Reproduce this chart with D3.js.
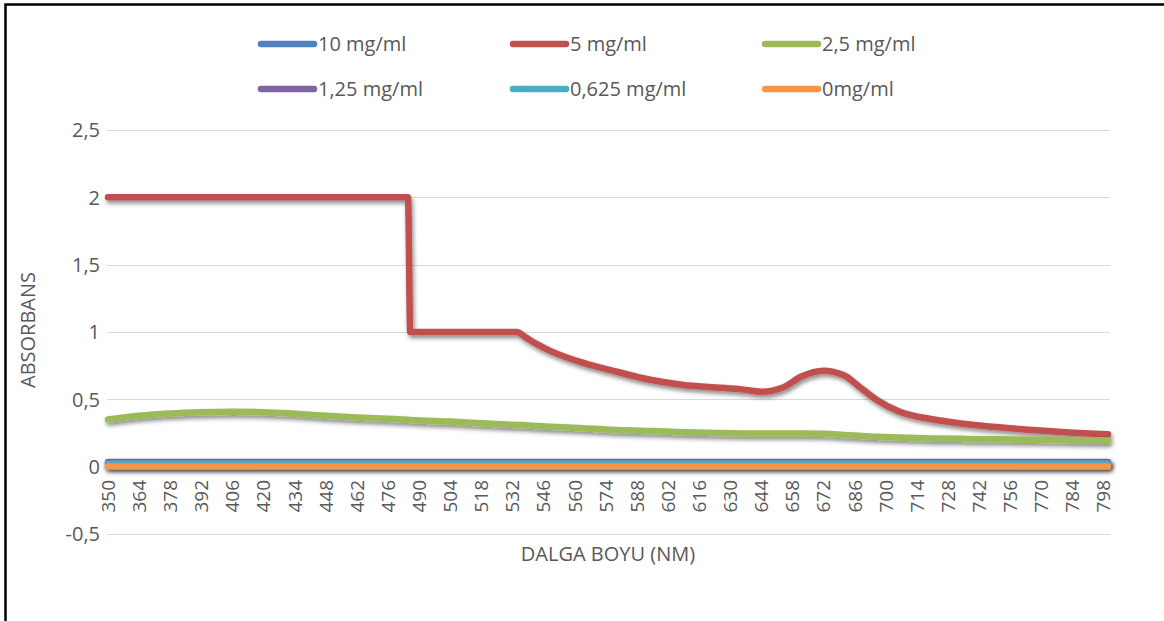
<!DOCTYPE html>
<html>
<head>
<meta charset="utf-8">
<script src="https://cdn.jsdelivr.net/npm/d3@7"></script>
<style>
  html, body { margin: 0; padding: 0; background: #ffffff; }
  svg { display: block; }
  text { font-family: "Open Sans", "Noto Sans", sans-serif; fill: #595959; }
</style>
</head>
<body>
<svg id="chart" width="1164" height="621"></svg>
<script>
// Wavelengths (nm) at which each absorbance series is sampled
const wavelengths = [350, 364, 378, 392, 406, 420, 434, 448, 462, 476, 485, 486, 504, 518, 534, 538, 543,
  549, 564, 579, 594, 609, 624, 636, 644, 654, 662, 672, 681, 688, 696, 706, 721, 736, 751, 766, 781, 800];

// Absorbance per concentration
const abs10 = [0.028, 0.028, 0.028, 0.028, 0.028, 0.028, 0.028, 0.028, 0.028, 0.028, 0.028, 0.028, 0.028, 0.028, 0.028, 0.028, 0.028,
  0.028, 0.028, 0.028, 0.028, 0.028, 0.028, 0.028, 0.028, 0.028, 0.028, 0.028, 0.028, 0.028, 0.028, 0.028, 0.028, 0.028, 0.028, 0.028, 0.028, 0.028];
const abs5 = [2, 2, 2, 2, 2, 2, 2, 2, 2, 2, 2, 1, 1, 1, 1, 0.96, 0.91,
  0.86, 0.77, 0.705, 0.645, 0.607, 0.588, 0.572, 0.557, 0.59, 0.67, 0.713, 0.68, 0.595, 0.495, 0.41, 0.352, 0.317, 0.292, 0.272, 0.255, 0.24];
const abs2_5 = [0.35, 0.378, 0.395, 0.404, 0.408, 0.405, 0.393, 0.378, 0.365, 0.355, 0.348, 0.347, 0.335, 0.322, 0.31, 0.307, 0.302,
  0.297, 0.285, 0.272, 0.264, 0.256, 0.25, 0.247, 0.246, 0.246, 0.247, 0.245, 0.236, 0.229, 0.222, 0.217, 0.21, 0.206, 0.203, 0.2, 0.197, 0.193];
const abs1_25 = [0.035, 0.035, 0.035, 0.034, 0.034, 0.034, 0.034, 0.034, 0.034, 0.034, 0.034, 0.034, 0.034, 0.034, 0.034, 0.034, 0.034,
  0.034, 0.034, 0.034, 0.034, 0.034, 0.034, 0.034, 0.034, 0.034, 0.034, 0.034, 0.034, 0.034, 0.034, 0.034, 0.034, 0.034, 0.034, 0.034, 0.034, 0.034];
const abs0_625 = [0.021, 0.021, 0.021, 0.021, 0.021, 0.021, 0.021, 0.021, 0.021, 0.021, 0.021, 0.021, 0.021, 0.021, 0.021, 0.021, 0.021,
  0.021, 0.021, 0.021, 0.021, 0.021, 0.021, 0.021, 0.021, 0.021, 0.021, 0.021, 0.021, 0.021, 0.021, 0.021, 0.021, 0.021, 0.021, 0.021, 0.021, 0.021];
const abs0 = [0.002, 0.002, 0.002, 0.002, 0.002, 0.002, 0.002, 0.002, 0.002, 0.002, 0.002, 0.002, 0.002, 0.002, 0.002, 0.002, 0.002,
  0.002, 0.002, 0.002, 0.002, 0.002, 0.002, 0.002, 0.002, 0.002, 0.002, 0.002, 0.002, 0.002, 0.002, 0.002, 0.002, 0.002, 0.002, 0.002, 0.002, 0.002];

const seriesNames = ["10 mg/ml", "5 mg/ml", "2,5 mg/ml", "1,25 mg/ml", "0,625 mg/ml", "0mg/ml"];
const seriesValues = [abs10, abs5, abs2_5, abs1_25, abs0_625, abs0];
const seriesColors = ["#4F81BD", "#C0504D", "#9BBB59", "#8064A2", "#4BACC6", "#F79646"];

// Category labels shown on the wavelength axis
const xTickLabels = [350, 364, 378, 392, 406, 420, 434, 448, 462, 476, 490, 504, 518, 532, 546, 560, 574,
  588, 602, 616, 630, 644, 658, 672, 686, 700, 714, 728, 742, 756, 770, 784, 798];
const yTickValues = [-0.5, 0, 0.5, 1, 1.5, 2, 2.5];

const svg = d3.select("#chart");

// Chart frame
svg.append("path")
  .attr("d", "M5.5,621 L5.5,4.5 L1164,4.5")
  .attr("fill", "none")
  .attr("stroke", "#000")
  .attr("stroke-width", 2.5);

// Soft drop shadow under the series lines (user-space region so flat lines keep it)
const defs = svg.append("defs");
const shadow = defs.append("filter").attr("id", "shadow")
  .attr("filterUnits", "userSpaceOnUse")
  .attr("x", 0).attr("y", 0).attr("width", 1164).attr("height", 621);
shadow.append("feDropShadow")
  .attr("dx", 1.5).attr("dy", 3).attr("stdDeviation", 2)
  .attr("flood-color", "#000").attr("flood-opacity", 0.45);

const x = d3.scaleLinear().domain([350, 800]).range([108, 1108]);
const y = d3.scaleLinear().domain([-0.5, 2.5]).range([534, 130]);

// Horizontal gridlines
svg.append("g")
  .selectAll("line")
  .data(yTickValues)
  .join("line")
  .attr("x1", 107).attr("x2", 1110)
  .attr("y1", d => Math.round(y(d)) + 0.5)
  .attr("y2", d => Math.round(y(d)) + 0.5)
  .attr("stroke", "#D9D9D9")
  .attr("stroke-width", 1.2);

// Value axis labels
const fmt = d => String(d).replace(".", ",");
svg.append("g")
  .selectAll("text")
  .data(yTickValues)
  .join("text")
  .attr("x", 100)
  .attr("y", d => y(d))
  .attr("dy", "0.36em")
  .attr("text-anchor", "end")
  .attr("font-size", 20)
  .text(fmt);

// Wavelength axis labels (rotated)
svg.append("g")
  .selectAll("text")
  .data(xTickLabels)
  .join("text")
  .attr("transform", d => `translate(${x(d)},480) rotate(-90)`)
  .attr("dy", "0.36em")
  .attr("text-anchor", "end")
  .attr("font-size", 19)
  .text(d => d);

// Axis titles
svg.append("text")
  .attr("transform", "translate(28,330) rotate(-90)")
  .attr("dy", "0.36em")
  .attr("text-anchor", "middle")
  .attr("font-size", 20)
  .text("ABSORBANS");

svg.append("text")
  .attr("x", 608).attr("y", 554)
  .attr("dy", "0.36em")
  .attr("text-anchor", "middle")
  .attr("font-size", 20)
  .text("DALGA BOYU (NM)");

// Series lines
const line = d3.line()
  .x((d, i) => x(wavelengths[i]))
  .y(d => y(d))
  .curve(d3.curveMonotoneX);

svg.append("g")
  .selectAll("path")
  .data(seriesValues)
  .join("path")
  .attr("d", d => line(d))
  .attr("fill", "none")
  .attr("stroke", (d, i) => seriesColors[i])
  .attr("stroke-width", 6.5)
  .attr("stroke-linejoin", "round")
  .attr("stroke-linecap", "round")
  .attr("filter", "url(#shadow)");

// Legend: two rows of three entries
const legendCols = [258, 510, 762];
const legendRows = [44, 89];
const legend = svg.append("g")
  .selectAll("g")
  .data(seriesNames)
  .join("g")
  .attr("transform", (d, i) => `translate(${legendCols[i % 3]},${legendRows[Math.floor(i / 3)]})`);

legend.append("line")
  .attr("x1", 3).attr("x2", 56)
  .attr("y1", 0).attr("y2", 0)
  .attr("stroke", (d, i) => seriesColors[i])
  .attr("stroke-width", 6.5)
  .attr("stroke-linecap", "round");

legend.append("text")
  .attr("x", 60)
  .attr("y", 0)
  .attr("dy", "0.36em")
  .attr("font-size", 20)
  .text(d => d);
</script>
</body>
</html>
